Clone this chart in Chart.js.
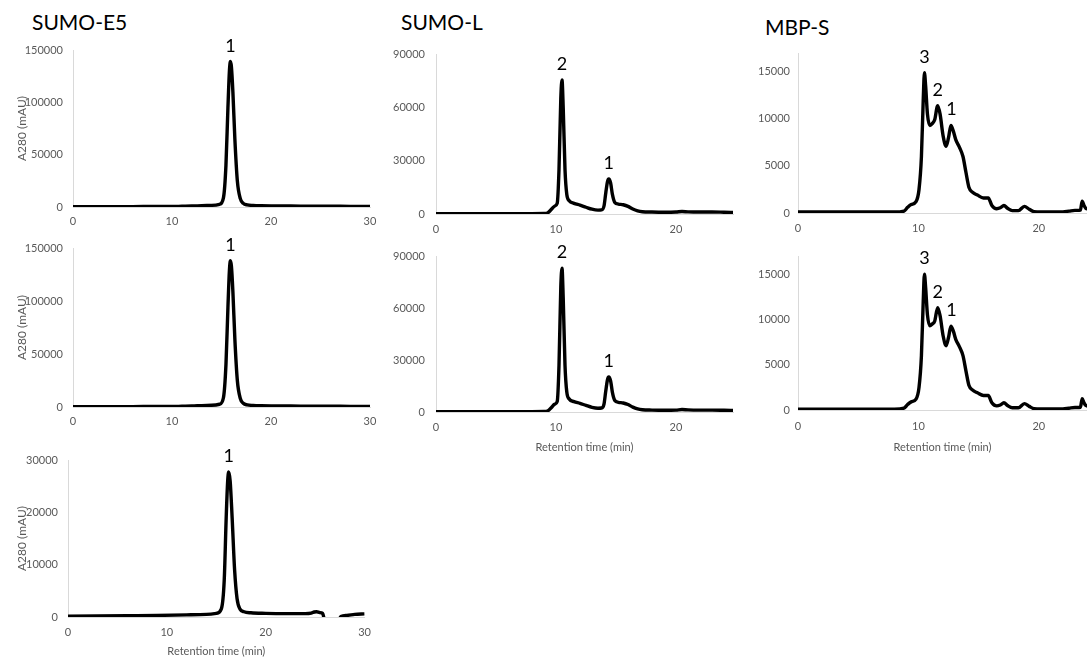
<!DOCTYPE html>
<html>
<head>
<meta charset="utf-8">
<title>SEC traces</title>
<script src="https://cdn.jsdelivr.net/npm/chart.js@4.4.1/dist/chart.umd.min.js"></script>
<style>
  body { margin: 0; width: 1087px; height: 658px; overflow: hidden; background: #fff; position: relative; font-family: Lato, sans-serif; }
  canvas { position: absolute; }
  .title { position: absolute; font-size: 21px; line-height: 21px; color: #000; white-space: nowrap; }
</style>
</head>
<body>
<div class="title" style="left:32px;top:11px">SUMO-E5</div>
<div class="title" style="left:401px;top:11px">SUMO-L</div>
<div class="title" style="left:765px;top:16px">MBP-S</div>

<canvas id="e5a" width="385" height="205" style="left:0;top:30px"></canvas>
<canvas id="e5b" width="385" height="207" style="left:0;top:228px"></canvas>
<canvas id="e5c" width="380" height="222" style="left:0;top:438px"></canvas>
<canvas id="la" width="360" height="210" style="left:380px;top:30px"></canvas>
<canvas id="lb" width="360" height="226" style="left:380px;top:230px"></canvas>
<canvas id="ma" width="347" height="210" style="left:740px;top:30px"></canvas>
<canvas id="mb" width="347" height="226" style="left:740px;top:230px"></canvas>

<script>
// retention time (min) and A280 (mAU)
const e5Time = [0, 2, 4, 6, 8, 10, 11, 12, 13, 14, 14.8, 15.2, 15.45, 15.65, 15.8, 15.9, 16.0, 16.15, 16.35, 16.6, 16.9, 17.2, 17.6, 18.2, 19, 20, 22, 24, 26, 28, 30];
const e5Run1 = [400, 400, 400, 400, 450, 500, 700, 900, 1300, 1600, 2600, 9000, 40000, 95000, 130000, 139000, 134000, 110000, 65000, 25000, 8000, 3500, 2000, 1500, 1200, 1000, 900, 800, 700, 600, 500];
const e5Run2 = [400, 400, 400, 400, 450, 500, 700, 900, 1300, 1600, 2600, 9000, 40000, 94000, 129000, 138000, 133000, 109000, 64000, 25000, 8000, 3500, 2000, 1500, 1200, 1000, 900, 800, 700, 600, 500];

const e5Time3 = [0, 3, 6, 9, 12, 14, 15, 15.5, 15.8, 16.0, 16.15, 16.25, 16.4, 16.6, 16.85, 17.1, 17.4, 17.8, 18.5, 20, 22, 24, 24.6, 24.9, 25.15, 25.45, 25.75, 26.0, 26.5, 27.0, 27.3, 27.6, 28.2, 29, 30];
const e5Run3 = [150, 200, 250, 300, 400, 500, 700, 1500, 7000, 19000, 26000, 27700, 26000, 19000, 9000, 3500, 1500, 1000, 800, 700, 650, 650, 750, 950, 1000, 850, 700, -1200, -3000, -3000, -1200, 100, 300, 500, 600];

const sumoLTime = [0, 3, 6, 8, 9, 9.3, 9.6, 9.9, 10.1, 10.25, 10.4, 10.5, 10.6, 10.75, 10.9, 11.1, 11.5, 12, 12.5, 13, 13.5, 13.8, 14.0, 14.15, 14.3, 14.4, 14.55, 14.7, 14.9, 15.2, 15.6, 16.0, 16.4, 16.8, 17.2, 18, 19, 20, 20.5, 21, 22, 23, 24, 24.8];
const sumoLRun1 = [200, 200, 200, 200, 250, 600, 2500, 4500, 6000, 25000, 65000, 75400, 60000, 25000, 11000, 7500, 6000, 5000, 3800, 2700, 2200, 2300, 4500, 12000, 18500, 19700, 17500, 11000, 6500, 5600, 5200, 4300, 2800, 1800, 1300, 1100, 1000, 1100, 1400, 1200, 1100, 1100, 1000, 900];
const sumoLRun2 = [200, 200, 200, 200, 250, 600, 2500, 4500, 6000, 27000, 72000, 83000, 66000, 27000, 11500, 7500, 6000, 5000, 3800, 2700, 2200, 2300, 4600, 12300, 19000, 20200, 18000, 11300, 6600, 5600, 5200, 4300, 2800, 1800, 1300, 1100, 1000, 1100, 1400, 1200, 1100, 1100, 1000, 900];

const mbpTime = [0, 3, 6, 8, 8.8, 9.1, 9.4, 9.8, 10.05, 10.25, 10.4, 10.5, 10.6, 10.75, 10.95, 11.15, 11.35, 11.6, 11.8, 12.05, 12.3, 12.5, 12.7, 12.9, 13.1, 13.4, 13.7, 13.95, 14.2, 14.5, 14.9, 15.4, 15.8, 16.1, 16.5, 16.8, 17.1, 17.4, 17.8, 18.3, 18.8, 19.2, 19.6, 20.2, 21, 22, 22.5, 23, 23.2, 23.45, 23.6, 23.75, 23.9, 24.2];
const mbpRun1 = [100, 100, 100, 100, 200, 600, 900, 1200, 2500, 6000, 12000, 14900, 13500, 10500, 9300, 9500, 9900, 11400, 10500, 8200, 7100, 8000, 9300, 8700, 7800, 7000, 6000, 4300, 2700, 2200, 1900, 1600, 1600, 800, 450, 550, 800, 500, 250, 250, 700, 400, 150, 120, 120, 120, 200, 280, 280, 300, 1250, 800, 500, 400];
const mbpRun2 = [100, 100, 100, 100, 200, 600, 900, 1200, 2500, 6000, 12000, 15000, 13500, 10500, 9300, 9500, 9800, 11300, 10400, 8200, 7100, 8000, 9260, 8700, 7800, 7000, 6000, 4300, 2700, 2200, 1900, 1600, 1600, 800, 450, 550, 800, 500, 250, 250, 700, 400, 150, 120, 120, 120, 200, 280, 280, 300, 1250, 800, 500, 400];

// tick values shown on the axes
const timeTicks = [0, 10, 20, 30];
const e5Ticks = [0, 50000, 100000, 150000];
const e5Ticks3 = [0, 10000, 20000, 30000];
const sumoLTicks = [0, 30000, 60000, 90000];
const mbpTicks = [0, 5000, 10000, 15000];

// peak numbering shown above the traces
const e5Peaks = [{ at: 15.9, text: '1' }];
const e5Peaks3 = [{ at: 16.25, text: '1' }];
const sumoLPeaks = [{ at: 10.5, text: '2' }, { at: 14.4, text: '1' }];
const mbpPeaks = [{ at: 10.5, text: '3' }, { at: 11.6, text: '2' }, { at: 12.75, text: '1' }];

const grey = '#595959';
const axisLine = '#d9d9d9';

const peakLabelPlugin = {
  id: 'peakLabels',
  afterDatasetsDraw(chart, args, opts) {
    const { ctx, scales: { x, y } } = chart;
    const pts = chart.data.datasets[0].data;
    ctx.save();
    ctx.font = '18px Lato';
    ctx.fillStyle = '#000';
    ctx.textAlign = 'center';
    ctx.textBaseline = 'alphabetic';
    opts.items.forEach(item => {
      let top = 0;
      pts.forEach(p => { if (Math.abs(p.x - item.at) < 0.3 && p.y > top) top = p.y; });
      ctx.fillText(item.text, x.getPixelForValue(item.at), y.getPixelForValue(top) - 10);
    });
    ctx.restore();
  }
};

function makePanel(id, times, values, cfg) {
  const points = times.map((t, i) => ({ x: t, y: values[i] }));
  return new Chart(document.getElementById(id), {
    type: 'line',
    data: {
      datasets: [{
        data: points,
        borderColor: '#000',
        borderWidth: 3.4,
        pointRadius: 0,
        fill: false,
        cubicInterpolationMode: 'monotone'
      }]
    },
    options: {
      responsive: false,
      animation: false,
      layout: { padding: { top: cfg.padTop, right: cfg.padRight, left: 0, bottom: 0 } },
      plugins: {
        legend: { display: false },
        tooltip: { enabled: false },
        peakLabels: { items: cfg.peaks }
      },
      scales: {
        x: {
          type: 'linear',
          min: 0,
          max: cfg.xMax,
          grid: { display: false, drawTicks: false },
          border: { display: true, color: axisLine, width: 1 },
          ticks: { autoSkip: false, color: grey, font: { family: 'Lato', size: 11 }, padding: cfg.xPad, maxRotation: 0 },
          afterBuildTicks: s => { s.ticks = timeTicks.filter(v => v <= cfg.xMax).map(v => ({ value: v })); },
          afterFit: s => { s.height = cfg.xHeight; },
          title: {
            display: !!cfg.xTitle,
            text: 'Retention time (min)',
            color: grey,
            font: { family: 'Lato', size: 11 },
            padding: { top: 0, bottom: 2 }
          }
        },
        y: {
          min: 0,
          max: cfg.yMax,
          grid: { display: false, drawTicks: false },
          border: { display: true, color: axisLine, width: 1 },
          ticks: { autoSkip: false, color: grey, font: { family: 'Lato', size: 11 }, padding: cfg.yPad, callback: v => String(v) },
          afterBuildTicks: s => { s.ticks = cfg.yTicks.map(v => ({ value: v })); },
          afterFit: s => { s.width = cfg.yWidth; },
          title: {
            display: !!cfg.yTitle,
            text: 'A280 (mAU)',
            color: grey,
            font: { family: 'Lato', size: 12 },
            padding: { top: 15, bottom: 0 }
          }
        }
      }
    },
    plugins: [peakLabelPlugin]
  });
}

makePanel('e5a', e5Time, e5Run1, { xMax: 30, yMax: 150000, yTicks: e5Ticks, yWidth: 73, padTop: 20, padRight: 15, xHeight: 28, xPad: 8, yPad: 10, yTitle: true, peaks: e5Peaks });
makePanel('e5b', e5Time, e5Run2, { xMax: 30, yMax: 150000, yTicks: e5Ticks, yWidth: 73, padTop: 20, padRight: 15, xHeight: 28, xPad: 8, yPad: 10, yTitle: true, peaks: e5Peaks });
makePanel('e5c', e5Time3, e5Run3, { xMax: 30, yMax: 30000, yTicks: e5Ticks3, yWidth: 68, padTop: 22, padRight: 15, xHeight: 43, xPad: 9, yPad: 10, yTitle: true, xTitle: true, peaks: e5Peaks3 });
makePanel('la', sumoLTime, sumoLRun1, { xMax: 24.75, yMax: 90000, yTicks: sumoLTicks, yWidth: 56, padTop: 24, padRight: 7, xHeight: 26, xPad: 9, yPad: 11, peaks: sumoLPeaks });
makePanel('lb', sumoLTime, sumoLRun2, { xMax: 24.75, yMax: 90000, yTicks: sumoLTicks, yWidth: 56, padTop: 26, padRight: 7, xHeight: 44, xPad: 9, yPad: 11, xTitle: true, peaks: sumoLPeaks });
makePanel('ma', mbpTime, mbpRun1, { xMax: 24, yMax: 17000, yTicks: mbpTicks, yWidth: 58, padTop: 23, padRight: 0, xHeight: 27, xPad: 9, yPad: 8, peaks: mbpPeaks });
makePanel('mb', mbpTime, mbpRun2, { xMax: 24, yMax: 17000, yTicks: mbpTicks, yWidth: 58, padTop: 26, padRight: 0, xHeight: 46, xPad: 10, yPad: 8, xTitle: true, peaks: mbpPeaks });
</script>
</body>
</html>
